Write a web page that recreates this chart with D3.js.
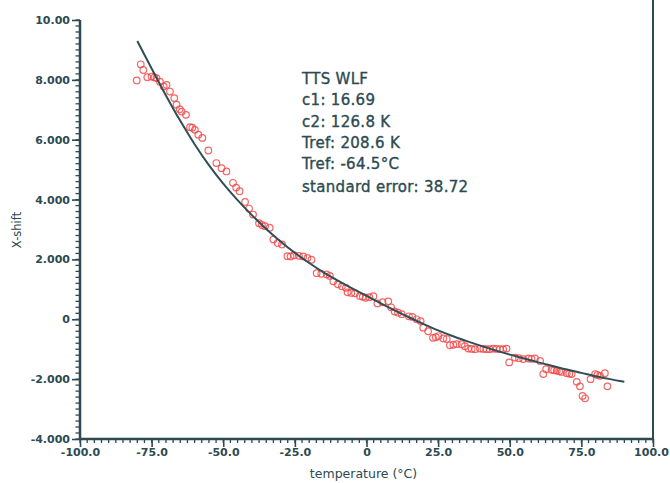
<!DOCTYPE html>
<html>
<head>
<meta charset="utf-8">
<script src="https://cdn.jsdelivr.net/npm/d3@7"></script>
<style>
  html, body { margin: 0; padding: 0; background: #fff; }
  svg { display: block; }
</style>
</head>
<body>
<div id="chart"></div>
<script>
// ---- data ----
const pointTemp = [-80.2,-78.8,-77.9,-76.5,-75.0,-73.3,-72.1,-69.8,-68.6,-67.1,-66.3,-64.5,-63.0,-61.6,-59.9,-58.7,-57.3,-55.2,-52.4,-48.9,-46.6,-44.3,-42.4,-39.6,-37.5,-35.4,-33.8,-32.5,-29.5,-27.6,-25.3,-22.1,-19.2,-17.4,-13.9,-11.6,-10.0,-7.2,-6.6,-4.0,-2.3,-0.3,2.4,3.8,7.6,9.8,12.3,14.8,17.5,18.9,19.8,23.2,25.1,26.8,29.1,31.5,33.2,35.5,37.9,39.6,41.9,44.2,46.6,48.9,49.8,51.8,54.7,56.5,58.8,60.6,61.7,62.7,64.6,66.4,68.1,69.9,71.6,73.4,74.5,75.4,76.3,78.2,79.8,81.5,83.2,84.1,
  -74.0,-70.8,-65.2,-60.8,-50.6,-45.5,-41.0,-36.5,-31.0,-26.5,-23.6,-20.6,-15.8,-12.8,-8.6,-5.3,-1.3,1.0,5.6,8.6,11.0,16.0,21.5,24.2,28.0,30.3,34.3,36.7,40.8,43.0,45.4,47.7,53.2,57.6,65.5,67.3,70.8,80.6];
const pointShift = [7.98,8.52,8.33,8.09,8.11,8.06,7.94,7.83,7.61,7.39,7.17,6.94,6.83,6.42,6.33,6.17,6.06,5.64,5.22,4.94,4.56,4.28,3.92,3.50,3.21,3.11,3.06,2.67,2.50,2.11,2.14,2.10,1.99,1.54,1.50,1.27,1.17,1.05,0.90,0.87,0.78,0.72,0.77,0.53,0.60,0.26,0.17,0.10,0.00,-0.06,-0.28,-0.62,-0.56,-0.64,-0.87,-0.83,-0.83,-0.98,-1.00,-0.98,-1.00,-0.98,-1.00,-0.98,-1.44,-1.28,-1.33,-1.31,-1.31,-1.39,-1.83,-1.67,-1.69,-1.72,-1.76,-1.80,-1.83,-2.09,-2.24,-2.56,-2.64,-2.00,-1.83,-1.89,-1.80,-2.24,
  8.08,7.78,7.02,6.40,5.05,4.40,3.70,3.15,2.55,2.10,2.12,2.05,1.52,1.45,1.10,0.88,0.75,0.74,0.57,0.40,0.22,0.08,-0.40,-0.60,-0.66,-0.85,-0.90,-0.99,-0.99,-1.00,-0.99,-1.00,-1.30,-1.32,-1.70,-1.74,-1.82,-1.86];

const fitTemp  = [-80,-75,-70,-65,-60,-55,-50,-45,-40,-35,-30,-25,-20,-15,-10,-5,0,5,10,15,20,25,30,35,40,45,50,55,60,65,70,75,80,85,90];
const fitShift = [9.30,8.38,7.48,6.63,5.85,5.15,4.53,3.98,3.48,3.02,2.60,2.22,1.88,1.57,1.29,1.03,0.78,0.53,0.29,0.06,-0.16,-0.37,-0.56,-0.73,-0.89,-1.04,-1.18,-1.31,-1.44,-1.56,-1.68,-1.79,-1.90,-2.00,-2.09];

const xTicks = [-100,-75,-50,-25,0,25,50,75,100];
const xTickLabels = ["-100.0","-75.0","-50.0","-25.0","0","25.0","50.0","75.0","100.0"];
const yTicks = [10,8,6,4,2,0,-2,-4];
const yTickLabels = ["10.00","8.000","6.000","4.000","2.000","0","-2.000","-4.000"];

const infoLines = ["TTS WLF","c1: 16.69","c2: 126.8 K","Tref: 208.6 K","Tref: -64.5°C","standard error: 38.72"];

// ---- layout ----
const W = 670, H = 483;
const mLeft = 80, mRight = 653, mTop = 20, mBottom = 439;
const axisColor = "#2c4a50";

const svg = d3.select("#chart").append("svg").attr("width", W).attr("height", H);

const x = d3.scaleLinear().domain([-100, 100]).range([mLeft, mRight]);
const y = d3.scaleLinear().domain([-4, 10]).range([mBottom, mTop]);

// right frame line
svg.append("line").attr("x1", mRight).attr("x2", mRight).attr("y1", 0).attr("y2", mBottom)
  .attr("stroke", axisColor).attr("stroke-width", 2);

// minor ticks
const yMinor = d3.range(-4, 10.0001, 0.2);
svg.append("g").selectAll("line").data(yMinor).join("line")
  .attr("x1", mLeft - 4.5).attr("x2", mLeft).attr("y1", d => y(d)).attr("y2", d => y(d))
  .attr("stroke", axisColor).attr("stroke-width", 1.3);
const xMinor = d3.range(-100, 100.0001, 2.5);
svg.append("g").selectAll("line").data(xMinor).join("line")
  .attr("x1", d => x(d)).attr("x2", d => x(d)).attr("y1", mBottom).attr("y2", mBottom + 4)
  .attr("stroke", axisColor).attr("stroke-width", 1.3);

// axes
const yAxis = d3.axisLeft(y).tickValues(yTicks).tickSize(8).tickPadding(2)
  .tickFormat((d, i) => yTickLabels[i]);
const gy = svg.append("g").attr("transform", `translate(${mLeft},0)`).call(yAxis);
const xAxis = d3.axisBottom(x).tickValues(xTicks).tickSize(8).tickPadding(1)
  .tickFormat((d, i) => xTickLabels[i]);
const gx = svg.append("g").attr("transform", `translate(0,${mBottom})`).call(xAxis);

[gx, gy].forEach(g => {
  g.select(".domain").attr("stroke", axisColor).attr("stroke-width", 2.5);
  g.selectAll(".tick line").attr("stroke", axisColor).attr("stroke-width", 1.6);
  g.selectAll(".tick text").attr("fill", axisColor)
    .style("font-family", "'DejaVu Sans', Verdana, sans-serif")
    .style("font-size", "11px").style("font-weight", "bold");
});
gy.select(".domain").attr("d", `M0,${mTop}V${mBottom}`);
gx.select(".domain").attr("d", `M${mLeft},0H${mRight}`);
gx.selectAll(".tick text").filter((d, i) => i === xTicks.length - 1).attr("dx", -2);

// axis titles
svg.append("text").attr("x", (mLeft + mRight) / 2 - 3).attr("y", 478)
  .attr("text-anchor", "middle").attr("fill", axisColor)
  .style("font-family", "'DejaVu Sans', Verdana, sans-serif").style("font-size", "12.5px")
  .text("temperature (°C)");
svg.append("text").attr("transform", "translate(21,230) rotate(-90)")
  .attr("text-anchor", "middle").attr("fill", axisColor)
  .style("font-family", "'DejaVu Sans', Verdana, sans-serif").style("font-size", "11.5px")
  .text("X-shift");

// data points
svg.append("g").selectAll("circle").data(pointTemp.map((t, i) => [t, pointShift[i]])).join("circle")
  .attr("cx", d => x(d[0])).attr("cy", d => y(d[1])).attr("r", 3.3)
  .attr("fill", "none").attr("stroke", "#f24a4a").attr("stroke-width", 1.2).attr("stroke-opacity", 0.85);

// fit curve
const line = d3.line().x(d => x(d[0])).y(d => y(d[1])).curve(d3.curveMonotoneX);
svg.append("path").datum(fitTemp.map((t, i) => [t, fitShift[i]]))
  .attr("d", line).attr("fill", "none").attr("stroke", "#2f4f55").attr("stroke-width", 2);

// info text
svg.append("g").selectAll("text").data(infoLines).join("text")
  .attr("x", 302).attr("y", (d, i) => 84 + i * 21.3 + (i === 5 ? 1 : 0))
  .attr("fill", axisColor)
  .attr("stroke", axisColor).attr("stroke-width", 0.35)
  .style("font-family", "'DejaVu Sans', sans-serif").style("font-size", "15px")
  .style("letter-spacing", "0.3px")
  .text(d => d);
</script>
</body>
</html>
